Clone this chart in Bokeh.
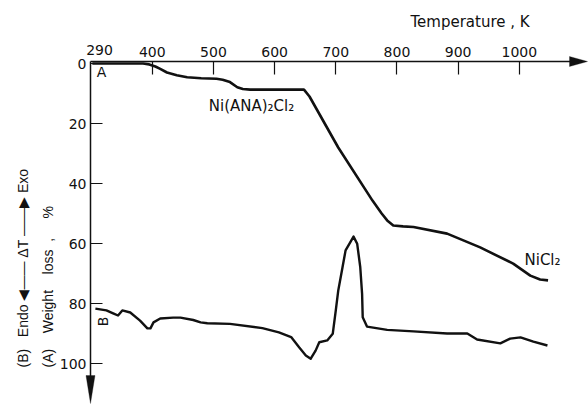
import math
from bokeh.plotting import figure
from bokeh.models import Range1d, FixedTicker, Label, PolyAnnotation
from bokeh.embed import file_html
from bokeh.resources import INLINE

# ---- data ----
# Curve A: thermogravimetry, weight loss (%) vs temperature (K)
temp_a = [302, 385, 395, 405, 413, 424, 440, 457, 480, 505, 515, 527, 539, 548, 560,
          600, 648, 657, 704, 760, 775, 784, 794, 810, 827, 882, 936, 990, 1018, 1034, 1047]
loss_a = [0.0, 0.0, 0.3, 1.0, 1.8, 3.0, 3.9, 4.6, 4.9, 5.1, 5.4, 6.2, 7.9, 8.5, 8.7,
          8.7, 8.7, 11.0, 28.0, 45.7, 50.0, 52.3, 54.0, 54.3, 54.5, 56.7, 61.3, 66.7, 70.7, 72.0, 72.3]

# Curve B: DTA trace (plotted on the same vertical scale)
temp_b = [307, 325, 336, 344, 351, 364, 380, 392, 397, 402, 413, 434, 446, 467, 479, 490,
          527, 580, 607, 627, 640, 651, 659, 667, 673, 686, 695, 700, 704, 711, 716, 729,
          735, 740, 743, 744, 751, 784, 827, 882, 915, 931, 969, 985, 1002, 1023, 1046]
dta_b = [81.7, 82.3, 83.3, 84.0, 82.3, 83.0, 85.7, 88.3, 88.3, 86.3, 85.0, 84.7, 84.7, 85.5, 86.3, 86.6,
         86.8, 88.2, 89.6, 91.2, 94.6, 97.3, 98.4, 95.7, 92.9, 92.3, 90.1, 82.3, 75.7, 67.9, 62.3, 57.7,
         60.1, 67.9, 76.8, 84.6, 87.7, 88.8, 89.3, 90.0, 90.0, 92.0, 93.3, 91.7, 91.3, 92.7, 94.0]

x_ticks = [400, 500, 600, 700, 800, 900, 1000]
x_origin_label = "290"
y_ticks = [0, 20, 40, 60, 80, 100]

# ---- layout: the frame fills the canvas, axes sit at fixed locations ----
W, H = 588, 404
AX_X, AX_Y = 90, 61          # pixel position of the axes corner
PX_PER_K = 0.6117
PX_PER_U = 3.0
X0 = 299.0                   # temperature at the vertical axis
Y0 = -0.67                   # weight-loss value at the horizontal axis

def dx(px):
    return X0 + (px - AX_X) / PX_PER_K

def dy(py):
    return Y0 + (py - AX_Y) / PX_PER_U

FONT = "DejaVu Sans"
FONT2 = "Liberation Sans"
INK = "#111111"
SP = "\u00a0"

p = figure(width=W, height=H, output_backend="svg", toolbar_location=None,
           x_range=Range1d(dx(0), dx(W)), y_range=Range1d(dy(H), dy(0)),
           x_axis_location="above", min_border=0)
p.outline_line_color = None
p.xgrid.visible = False
p.ygrid.visible = False
p.background_fill_color = "white"
p.border_fill_color = "white"

for ax in (p.xaxis[0], p.yaxis[0]):
    ax.axis_line_width = 1.5
    ax.axis_line_color = INK
    ax.major_tick_line_color = INK
    ax.major_tick_line_width = 1.2
    ax.major_tick_out = 0
    ax.minor_tick_line_color = None
    ax.major_label_text_font = FONT
    ax.major_label_text_font_size = "14px"
    ax.major_label_text_color = INK

p.xaxis.fixed_location = Y0
p.xaxis.bounds = (X0, dx(575))
p.xaxis.ticker = FixedTicker(ticks=x_ticks)
p.xaxis.major_tick_in = 13
p.xaxis.major_label_standoff = 5

p.yaxis.fixed_location = X0
p.yaxis.bounds = (Y0, dy(390))
p.yaxis.ticker = FixedTicker(ticks=y_ticks)
p.yaxis.major_tick_in = 12
p.yaxis.major_label_standoff = 4

p.line(temp_a, loss_a, line_color=INK, line_width=2.6, line_join="round")
p.line(temp_b, dta_b, line_color=INK, line_width=2.4, line_join="round")

# arrow heads on the axes
p.add_layout(PolyAnnotation(xs=[dx(569), dx(587), dx(569)], ys=[dy(56), dy(61), dy(66)],
                            fill_color=INK, fill_alpha=1, line_color=INK, line_width=1))
p.add_layout(PolyAnnotation(xs=[dx(85.5), dx(90), dx(94.5)], ys=[dy(375), dy(403), dy(375)],
                            fill_color=INK, fill_alpha=1, line_color=INK, line_width=1))

def lab(text, x, y, size="15px", align="left", baseline="middle", angle=0.0, font=FONT):
    p.add_layout(Label(x=x, y=y, text=text, text_font=font, text_font_size=size,
                       text_color=INK, text_align=align, text_baseline=baseline, angle=angle))

lab(x_origin_label, dx(99), dy(49), size="14px", align="center")
lab("Temperature , K", dx(410), dy(21))
lab("A", dx(101), dy(71), size="14px", align="center")
lab("B", dx(102), dy(321), size="14px", align="center", angle=math.pi / 2)
lab("Ni(ANA)\u2082Cl\u2082", dx(251), dy(105), align="center")
lab("NiCl\u2082", dx(524), dy(259))
lab("(A)" + SP * 4 + "Weight" + SP * 4 + "loss" + SP * 2 + "," + SP * 5 + "%",
    dx(47), dy(367), size="14px", angle=math.pi / 2, font=FONT2)
lab("(B)" + SP * 3 + "Endo" + SP + "\u25C0\u2014\u2014" + SP + "\u0394T" + SP + "\u2014\u2014\u25B6" + SP + "Exo",
    dx(22), dy(367), size="14px", angle=math.pi / 2, font=FONT2)

open("out.html", "w").write(file_html(p, INLINE))
